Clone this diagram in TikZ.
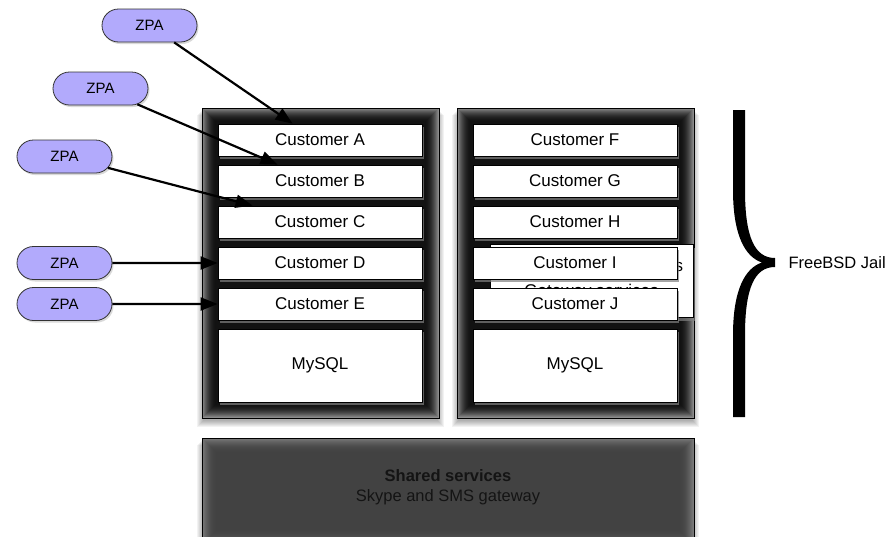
\documentclass[tikz,border=0pt]{standalone}
\usepackage{fontspec}
\setmainfont{Liberation Sans}
\usetikzlibrary{arrows.meta, shadows, shapes.misc}
\definecolor{zpaviolet}{RGB}{178,170,252}
\definecolor{sharedtext}{RGB}{20,20,20}

% soft grey shadow under a box: x1 y1 x2 y2
\newcommand{\softshadow}[4]{%
  \foreach \i in {1,...,7}
    \fill[black, opacity=0.05] (#1-\i+2,#2+\i) rectangle (#3+\i-2,#4+\i+2);
}
% dark box with a lighter inner edge: x1 y1 x2 y2 edge inner
\newcommand{\glowbox}[6]{%
  \foreach \i in {0,...,14}{
    \pgfmathsetmacro\pct{#6-(#6-#5)*(1-\i/14)*(1-\i/14)}
    \fill[black!\pct] (#1+\i,#2+\i) rectangle (#3-\i,#4-\i);
  }
  \draw[black, line width=0.8pt] (#1,#2) rectangle (#3,#4);
}

\tikzset{
  customer/.style={rectangle, draw=black, line width=0.8pt, fill=white,
    minimum width=204pt, minimum height=32pt, inner sep=0pt,
    font=\fontsize{17}{20}\selectfont,
    drop shadow={opacity=0.7, shadow xshift=2pt, shadow yshift=-3pt}},
  zpa/.style={rounded rectangle, draw=black!80, line width=0.8pt, fill=zpaviolet,
    minimum width=95pt, minimum height=33pt, inner sep=0pt,
    font=\fontsize{15}{18}\selectfont,
    drop shadow={opacity=0.3, shadow xshift=1.5pt, shadow yshift=-2pt}},
  link/.style={-{Triangle[length=17pt,width=13pt]}, line width=2.2pt},
}

\begin{document}
\begin{tikzpicture}[x=1pt,y=-1pt]
\useasboundingbox (0,0) rectangle (888,536);

% Jails and shared services
\softshadow{202}{108}{439}{418}
\softshadow{457}{108}{694}{418}
\softshadow{202}{438}{694}{545}
\glowbox{202}{108}{439}{418}{45}{93}
\glowbox{457}{108}{694}{418}{45}{93}
\glowbox{202}{438}{694}{545}{52}{74}
\node[align=center, text=sharedtext, font=\fontsize{16.5}{20}\selectfont] (shared) at (448,487)
  {\textbf{Shared services}\\Skype and SMS gateway};

% Left jail
\node[customer] (custA) at (320,140) {Customer A};
\node[customer] (custB) at (320,181) {Customer B};
\node[customer] (custC) at (320,222) {Customer C};
\node[customer] (custD) at (320,263) {Customer D};
\node[customer] (custE) at (320,304) {Customer E};
\node[customer, minimum height=73pt] (mysqlL) at (320,365.5) {MySQL};

% Right jail
\node[customer] (custF) at (575,140) {Customer F};
\node[customer] (custG) at (575,181) {Customer G};
\node[customer] (custH) at (575,222) {Customer H};
\node[customer, minimum width=203pt, minimum height=73pt, align=center] (gateway) at (591.5,281)
  {\makebox[183pt][r]{s}\\[5pt]Gateway services};
\node[customer] (custI) at (575,263) {Customer I};
\node[customer] (custJ) at (575,304) {Customer J};
\node[customer, minimum height=73pt] (mysqlR) at (575,365.5) {MySQL};

% ZPA instances
\node[zpa] (zpa1) at (149.5,25.5) {ZPA};
\node[zpa] (zpa2) at (100.5,88.5) {ZPA};
\node[zpa] (zpa3) at (64.5,156.5) {ZPA};
\node[zpa] (zpa4) at (64.5,263) {ZPA};
\node[zpa] (zpa5) at (64.5,304) {ZPA};

\draw[link] (zpa1) -- ([xshift=75pt]custA.north west);
\draw[link] (zpa2) -- ([xshift=60pt]custB.north west);
\draw[link] (zpa3) -- ([xshift=35pt]custC.north west);
\draw[link] (zpa4) -- (custD);
\draw[link] (zpa5) -- (custE);

% Brace
\fill[black] (733,110) -- (745,110) -- (745,190)
  .. controls (745,238) and (755,258) .. (775,258) -- (775,267)
  .. controls (755,267) and (745,287) .. (745,335) -- (745,417) -- (733,417) -- (733,335)
  .. controls (733,290) and (745,268) .. (762,262.5)
  .. controls (745,257) and (733,235) .. (733,190) -- cycle;
\node[anchor=west, font=\fontsize{16.5}{20}\selectfont] (jail) at (785,263) {FreeBSD Jail};
\end{tikzpicture}
\end{document}
